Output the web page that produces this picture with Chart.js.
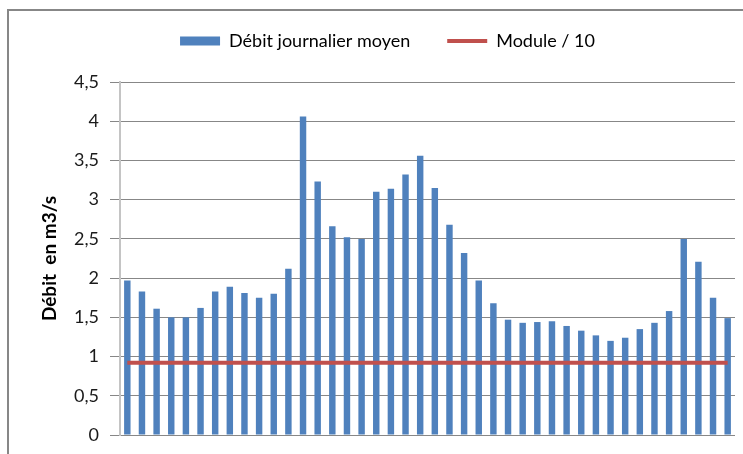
<!DOCTYPE html>
<html lang="fr">
<head>
<meta charset="utf-8">
<title>Débit journalier moyen</title>
<script src="https://cdn.jsdelivr.net/npm/chart.js@4/dist/chart.umd.min.js"></script>
<style>
  html, body { margin: 0; padding: 0; background: #fff; overflow: hidden; }
  #frame {
    position: absolute; left: 7px; top: 9px;
    width: 758px; height: 445px;
    border-top: 2px solid #878787; border-left: 2px solid #878787;
  }
  #wrap { position: absolute; left: 0; top: 0; width: 756px; height: 443px; }
</style>
</head>
<body>
<div id="frame"><div id="wrap"><canvas id="debit"></canvas></div></div>
<script>
// daily mean flow, one bar per day (m3/s)
const days = [];
for (let d = 1; d <= 42; d++) days.push(String(d));
const debitMoyen = [1.97, 1.83, 1.61, 1.50, 1.50, 1.62, 1.83, 1.89, 1.81, 1.75, 1.80, 2.12,
  4.06, 3.23, 2.66, 2.52, 2.50, 3.10, 3.14, 3.32, 3.56, 3.15, 2.68, 2.32, 1.97, 1.68,
  1.47, 1.43, 1.44, 1.45, 1.39, 1.33, 1.27, 1.20, 1.24, 1.35, 1.43, 1.58, 2.50, 2.21, 1.75, 1.49];
const moduleSur10 = 0.92;
const yTicks = [0, 0.5, 1, 1.5, 2, 2.5, 3, 3.5, 4, 4.5];
const yTickLabels = ['0', '0,5', '1', '1,5', '2', '2,5', '3', '3,5', '4', '4,5'];

Chart.defaults.font.family = 'Lato';
Chart.defaults.color = '#1a1a1a';

// push the plot down under the legend
const legendSpace = {
  id: 'legendSpace',
  beforeInit(chart) {
    const fit = chart.legend.fit;
    chart.legend.fit = function () {
      fit.bind(chart.legend)();
      this.height += 22;
    };
  }
};

new Chart(document.getElementById('debit'), {
  type: 'bar',
  data: {
    labels: days,
    datasets: [{
      label: 'Débit journalier moyen',
      data: debitMoyen,
      backgroundColor: '#4F81BD',
      borderWidth: 0,
      barPercentage: 0.44,
      categoryPercentage: 1,
      pointStyle: 'rect',
      order: 1
    }, {
      type: 'line',
      label: 'Module / 10',
      data: days.map(() => moduleSur10),
      borderColor: '#C0504D',
      backgroundColor: '#C0504D',
      borderWidth: 4,
      pointRadius: 0,
      pointStyle: 'line',
      order: 0
    }]
  },
  options: {
    responsive: true,
    maintainAspectRatio: false,
    animation: false,
    // legend padding is also used vertically, hence the negative top
    layout: { padding: { top: -16, right: 30, bottom: 19, left: 31 } },
    plugins: {
      tooltip: { enabled: false },
      legend: {
        position: 'top',
        labels: {
          usePointStyle: true,
          pointStyleWidth: 40,
          boxHeight: 9,
          padding: 37,
          color: '#000',
          font: { size: 18 },
          sort: (a, b) => a.datasetIndex - b.datasetIndex
        }
      }
    },
    scales: {
      x: { display: false },
      y: {
        min: 0,
        max: 4.5,
        afterBuildTicks: (scale) => { scale.ticks = yTicks.map(v => ({ value: v })); },
        afterFit: (scale) => {
          scale.width = 80;
          scale.paddingTop = 0;
          scale.paddingBottom = 0;
        },
        ticks: {
          padding: 11,
          font: { size: 18 },
          callback: (v) => yTickLabels[yTicks.indexOf(v)]
        },
        grid: { color: '#878787', lineWidth: 1, tickLength: 10 },
        border: { display: true, color: '#c4c4c4', width: 2 },
        title: {
          display: true,
          text: 'Débit  en m3/s',
          color: '#000',
          font: { size: 19, weight: 'bold', lineHeight: 1 },
          padding: { top: 0, bottom: 0 }
        }
      }
    }
  },
  plugins: [legendSpace]
});
</script>
</body>
</html>
